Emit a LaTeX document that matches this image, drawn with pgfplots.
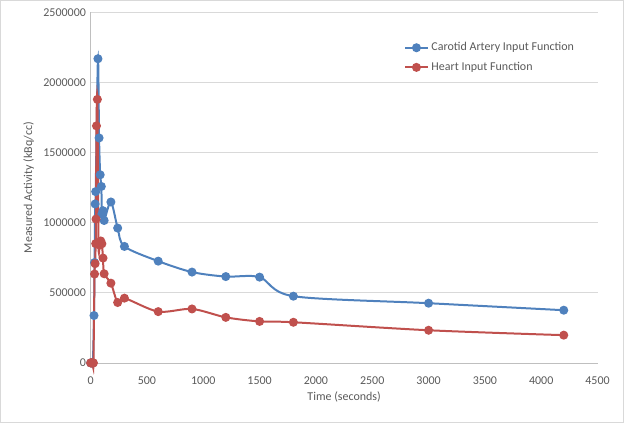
\documentclass[border=0pt]{standalone}
\usepackage{pgfplots}
\pgfplotsset{compat=1.18}
\usepackage{fontspec}
\setmainfont{Carlito}
\definecolor{cblue}{HTML}{4F81BD}
\definecolor{cred}{HTML}{C0504D}
\definecolor{gridgray}{HTML}{D9D9D9}
\definecolor{axgray}{HTML}{BFBFBF}
\definecolor{txtgray}{HTML}{595959}
\begin{document}
\begin{tikzpicture}
\draw[gridgray, line width=0.75pt] (0,0) rectangle (468pt,317.25pt);
\begin{axis}[
    at={(67.7pt,45pt)}, anchor=south west,
    scale only axis,
    width=380.8pt, height=263.25pt,
    xmin=0, xmax=4500, ymin=0, ymax=2500000,
    xtick={0,500,...,4500},
    ytick={0,500000,1000000,1500000,2000000,2500000},
    scaled ticks=false,
    /pgf/number format/fixed,
    /pgf/number format/set thousands separator={},
    /pgf/number format/assume math mode=true,
    axis x line*=bottom, axis y line*=left,
    axis line style={draw=axgray, -},
    major tick length=0pt,
    ymajorgrids, grid style={draw=gridgray, line width=0.6pt},
    tick label style={font=\fontsize{9}{11}\selectfont, text=txtgray},
    xticklabel style={yshift=-7pt},
    label style={font=\fontsize{9}{11}\selectfont, text=txtgray},
    xlabel={Time (seconds)},
    ylabel={Measured Activity (kBq/cc)},
    xlabel style={at={(axis description cs:0.5,0)}, yshift=-25.5pt, anchor=center},
    ylabel style={at={(axis description cs:-0.122,0.5)}, anchor=center},
    legend style={at={(0.61,0.93)}, anchor=north west, draw=none, fill=none,
        font=\fontsize{9}{11}\selectfont, text=txtgray, row sep=3pt},
    legend cell align=left,
    clip=false,
]
\addplot[smooth, color=cblue, line width=1.5pt, mark=*, mark size=2.6pt,
    mark options={solid, fill=cblue, draw=cblue}]
coordinates {
    (0,0) (10,0) (20,0) (30,338000) (35,716000) (40,1134000) (45,1222000)
    (65,2170000) (75,1605000) (85,1342000) (95,1259000) (100,1062000)
    (110,1086000) (120,1016000) (180,1148000) (240,962000) (300,831000)
    (600,726000) (900,648000) (1200,616000) (1500,612000) (1800,476000)
    (3000,426000) (4200,376000)
};
\addplot[smooth, color=cred, line width=1.5pt, mark=*, mark size=2.6pt,
    mark options={solid, fill=cred, draw=cred}]
coordinates {
    (0,0) (5,0) (10,0) (15,0) (20,0) (25,0) (35,634000) (40,708000)
    (45,851000) (48,1026000) (52,1691000) (60,1880000) (70,851000)
    (80,840000) (90,870000) (100,850000) (110,748000) (120,636000)
    (180,569000) (240,431000) (300,462000) (600,366000) (900,385000)
    (1200,325000) (1500,296000) (1800,290000) (3000,233000) (4200,198000)
};
\legend{Carotid Artery Input Function, Heart Input Function}
\end{axis}
\end{tikzpicture}
\end{document}
